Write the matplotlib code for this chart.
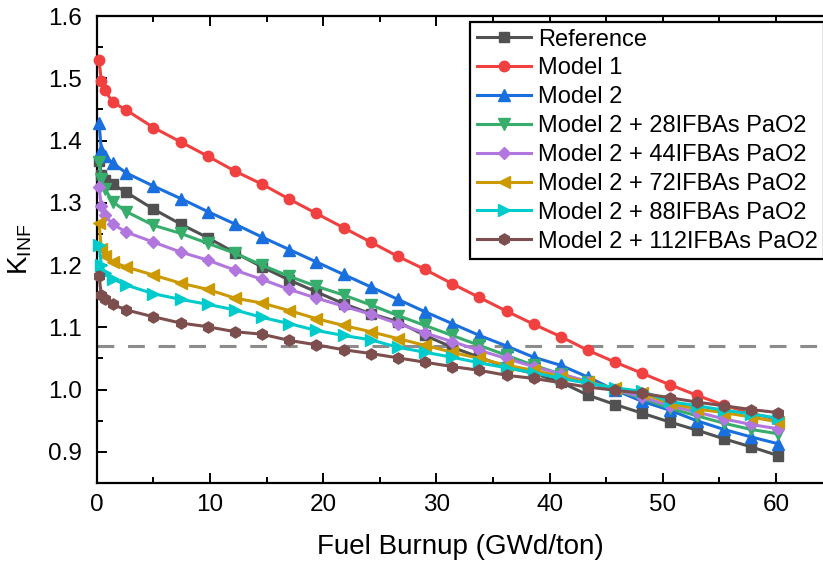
import matplotlib
matplotlib.use("Agg")
import matplotlib.pyplot as plt
from matplotlib.ticker import MultipleLocator

plt.rcParams['font.family'] = ['Liberation Sans', 'DejaVu Sans']
plt.rcParams['mathtext.fontset'] = 'custom'
plt.rcParams['mathtext.rm'] = 'Liberation Sans'

burnup = [0.2, 0.4, 0.7, 1.4, 2.6, 5.0, 7.4, 9.8, 12.2, 14.6, 17.0, 19.4, 21.8, 24.2,
          26.6, 29.0, 31.4, 33.8, 36.2, 38.6, 41.0, 43.4, 45.8, 48.2, 50.6, 53.0,
          55.4, 57.8, 60.2]

reference = [1.368, 1.345, 1.337, 1.330, 1.317, 1.290, 1.266, 1.244, 1.220, 1.197,
             1.176, 1.157, 1.138, 1.122, 1.109, 1.087, 1.068, 1.052, 1.036, 1.026,
             1.012, 0.991, 0.976, 0.962, 0.948, 0.935, 0.921, 0.908, 0.894]
model1 = [1.529, 1.496, 1.481, 1.462, 1.449, 1.421, 1.398, 1.375, 1.351, 1.330,
          1.306, 1.283, 1.260, 1.237, 1.214, 1.193, 1.170, 1.148, 1.126, 1.105,
          1.085, 1.063, 1.044, 1.026, 1.008, 0.991, 0.975, 0.962, 0.952]
model2 = [1.428, 1.385, 1.375, 1.364, 1.348, 1.327, 1.307, 1.286, 1.266, 1.245,
          1.225, 1.205, 1.185, 1.165, 1.145, 1.125, 1.106, 1.087, 1.070, 1.052,
          1.039, 1.020, 0.999, 0.981, 0.967, 0.950, 0.936, 0.924, 0.913]
ifba28 = [1.366, 1.339, 1.323, 1.302, 1.286, 1.264, 1.251, 1.235, 1.219, 1.200,
          1.182, 1.166, 1.152, 1.136, 1.119, 1.103, 1.087, 1.071, 1.055, 1.039,
          1.025, 1.012, 0.999, 0.986, 0.970, 0.958, 0.946, 0.936, 0.929]
ifba44 = [1.325, 1.295, 1.280, 1.266, 1.253, 1.237, 1.221, 1.208, 1.192, 1.177,
          1.161, 1.147, 1.134, 1.121, 1.106, 1.091, 1.077, 1.063, 1.050, 1.037,
          1.025, 1.013, 1.000, 0.988, 0.974, 0.964, 0.953, 0.944, 0.937]
ifba72 = [1.268, 1.226, 1.214, 1.205, 1.197, 1.184, 1.171, 1.161, 1.147, 1.139,
          1.127, 1.114, 1.103, 1.093, 1.082, 1.071, 1.060, 1.050, 1.039, 1.031,
          1.021, 1.012, 1.002, 0.994, 0.978, 0.969, 0.963, 0.956, 0.948]
ifba88 = [1.232, 1.200, 1.188, 1.178, 1.168, 1.154, 1.145, 1.137, 1.128, 1.116,
          1.106, 1.095, 1.087, 1.080, 1.068, 1.060, 1.052, 1.043, 1.035, 1.027,
          1.018, 1.010, 1.003, 0.997, 0.981, 0.974, 0.967, 0.961, 0.954]
ifba112 = [1.183, 1.152, 1.145, 1.137, 1.128, 1.117, 1.107, 1.101, 1.093, 1.089,
           1.079, 1.072, 1.064, 1.058, 1.051, 1.044, 1.037, 1.031, 1.023, 1.018,
           1.011, 1.004, 0.999, 0.994, 0.987, 0.980, 0.974, 0.968, 0.963]

threshold = 1.07

labels = ["Reference", "Model 1", "Model 2", "Model 2 + 28IFBAs PaO2",
          "Model 2 + 44IFBAs PaO2", "Model 2 + 72IFBAs PaO2",
          "Model 2 + 88IFBAs PaO2", "Model 2 + 112IFBAs PaO2"]
series = [reference, model1, model2, ifba28, ifba44, ifba72, ifba88, ifba112]
colors = ["#515151", "#F14040", "#1A6FDF", "#37AD6B", "#B177DE", "#CC9900",
          "#00CBCC", "#7D4E4E"]
markers = ["s", "o", "^", "v", "D", "<", ">", "h"]
msizes = [7, 7.5, 8, 8, 6.5, 8, 8, 8]

W, H = 823, 567
fig = plt.figure(figsize=(W / 100, H / 100), dpi=100)
left, right, top, bottom = 96.8, 823, 16.1, 483
ax = fig.add_axes([left / W, 1 - bottom / H, (right - left) / W, (bottom - top) / H])

ax.axhline(threshold, color="#8C8C8C", lw=2.2, dashes=(5.5, 4.5), zorder=1)

for ys, lab, c, m, ms in zip(series, labels, colors, markers, msizes):
    ax.plot(burnup, ys, color=c, marker=m, markersize=ms, lw=2.2, label=lab,
            clip_on=False, zorder=3)

ax.set_xlim(0, (right - left) / 11.32)
ax.set_ylim(0.85, 1.6)
ax.xaxis.set_major_locator(MultipleLocator(10))
ax.xaxis.set_minor_locator(MultipleLocator(5))
ax.yaxis.set_major_locator(MultipleLocator(0.1))
ax.yaxis.set_minor_locator(MultipleLocator(0.05))
ax.yaxis.set_major_formatter(plt.FuncFormatter(lambda v, p: f"{v:.1f}"))

ax.spines['right'].set_visible(False)
for s in ['left', 'top', 'bottom']:
    ax.spines[s].set_linewidth(1.6)

ax.tick_params(which='both', direction='in', top=True, right=False, width=1.4,
               labelsize=17.5, colors='black')
ax.tick_params(which='major', length=7)
ax.tick_params(which='minor', length=4)
ax.tick_params(axis='y', which='both', pad=11)
ax.tick_params(axis='x', which='both', pad=8)

ax.set_xlabel("Fuel Burnup (GWd/ton)", fontsize=20, labelpad=13)
ax.set_ylabel(r"$\mathregular{K_{INF}}$", fontsize=20, labelpad=10)

leg = ax.legend(loc='upper left', bbox_to_anchor=(470 / W, 1 - 22 / H),
                bbox_transform=fig.transFigure, fontsize=17, frameon=True,
                fancybox=False, framealpha=1, edgecolor='black',
                borderpad=0.28, labelspacing=0.29, handlelength=2.3,
                handletextpad=0.3, borderaxespad=0, numpoints=1)
leg.get_frame().set_linewidth(1.6)
leg.set_zorder(5)

fig.savefig("out.png", dpi=100)
